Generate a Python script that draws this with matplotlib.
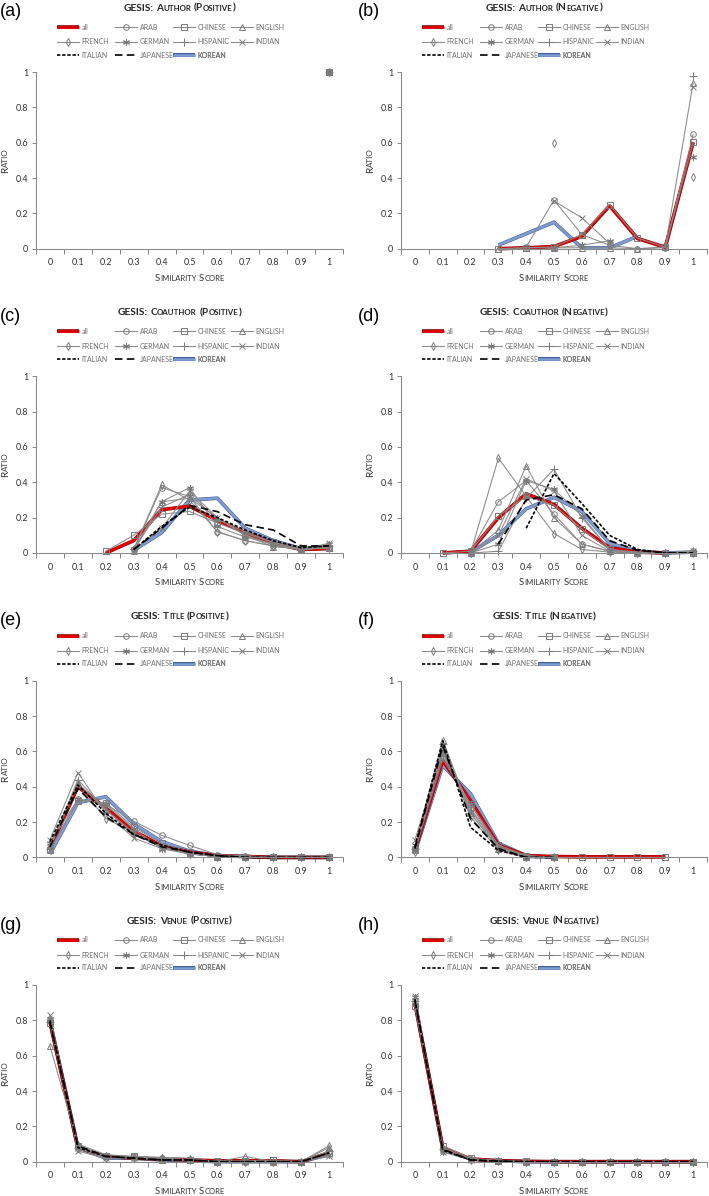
import numpy as np
import matplotlib
matplotlib.use('Agg')
import matplotlib.pyplot as plt
from matplotlib.transforms import IdentityTransform
import matplotlib.patheffects as pe

plt.rcParams['font.family'] = ['Lato', 'DejaVu Sans']

n = None

SCORES = ['0', '0.1', '0.2', '0.3', '0.4', '0.5', '0.6', '0.7', '0.8', '0.9', '1']
SERIES = ['all', 'ARAB', 'CHINESE', 'ENGLISH', 'FRENCH', 'GERMAN', 'HISPANIC',
          'INDIAN', 'ITALIAN', 'JAPANESE', 'KOREAN']
MARKERS = {'ARAB': 'o', 'CHINESE': 's', 'ENGLISH': '^', 'FRENCH': 'd',
           'GERMAN': (6, 2, 0), 'HISPANIC': '+', 'INDIAN': 'x'}
MSIZE = {'ARAB': 4, 'CHINESE': 4, 'ENGLISH': 4.5, 'FRENCH': 4,
         'GERMAN': 5, 'HISPANIC': 5.5, 'INDIAN': 4.5}

TITLES = ['GESIS: Author (Positive)', 'GESIS: Author (Negative)',
          'GESIS: Coauthor (Positive)', 'GESIS: Coauthor (Negative)',
          'GESIS: Title (Positive)', 'GESIS: Title (Negative)',
          'GESIS: Venue (Positive)', 'GESIS: Venue (Negative)']
LETTERS = ['(a)', '(b)', '(c)', '(d)', '(e)', '(f)', '(g)', '(h)']
XLABEL = 'Similarity Score'
YLABEL = 'Ratio'

AUTHOR_POS = {s: [n] * 10 + [1.0] for s in SERIES}

AUTHOR_NEG = {
    'all':      [n, n, n, 0.0, 0.005, 0.012, 0.07, 0.243, 0.058, 0.008, 0.602],
    'ARAB':     [n, n, n, n, 0.01, 0.275, 0.08, 0.02, 0.0, 0.005, 0.647],
    'CHINESE':  [n, n, n, 0.0, 0.005, 0.01, 0.08, 0.25, 0.06, 0.01, 0.602],
    'ENGLISH':  [n, n, n, 0.0, 0.005, 0.005, 0.005, 0.005, 0.0, 0.01, 0.936],
    'FRENCH':   [n, n, n, n, n, 0.6, n, n, n, n, 0.406],
    'GERMAN':   [n, n, n, n, n, 0.005, 0.02, 0.045, n, n, 0.519],
    'HISPANIC': [n, n, n, n, n, n, n, n, n, n, 0.977],
    'INDIAN':   [n, n, n, n, n, 0.27, 0.175, 0.03, n, n, 0.913],
    'ITALIAN':  [n] * 11,
    'JAPANESE': [n] * 11,
    'KOREAN':   [n, n, n, 0.02, 0.085, 0.15, 0.005, 0.005, 0.07, n, n],
}

COAUTHOR_POS = {
    'all':      [n, n, 0.0, 0.07, 0.245, 0.265, 0.185, 0.115, 0.055, 0.02, 0.025],
    'ARAB':     [n, n, n, 0.02, 0.37, 0.32, 0.12, 0.07, 0.04, 0.02, 0.03],
    'CHINESE':  [n, n, 0.01, 0.10, 0.22, 0.235, 0.17, 0.11, 0.06, 0.02, 0.03],
    'ENGLISH':  [n, n, n, 0.01, 0.29, 0.31, 0.20, 0.10, 0.035, 0.03, 0.03],
    'FRENCH':   [n, n, n, 0.02, 0.385, 0.30, 0.12, 0.07, 0.04, 0.02, 0.03],
    'GERMAN':   [n, n, n, 0.02, 0.29, 0.37, 0.15, 0.09, 0.05, 0.02, 0.05],
    'HISPANIC': [n, n, n, 0.02, 0.26, 0.33, 0.19, 0.12, 0.06, 0.03, 0.04],
    'INDIAN':   [n, n, n, 0.015, 0.14, 0.35, 0.20, 0.10, 0.05, 0.02, 0.055],
    'ITALIAN':  [n, n, n, 0.02, 0.15, 0.26, 0.20, 0.13, 0.07, 0.03, 0.04],
    'JAPANESE': [n, n, n, 0.02, 0.14, 0.27, 0.234, 0.16, 0.13, 0.04, 0.04],
    'KOREAN':   [n, n, n, 0.015, 0.115, 0.30, 0.31, 0.14, 0.07, 0.025, 0.03],
}

COAUTHOR_NEG = {
    'all':      [n, 0.0, 0.01, 0.20, 0.335, 0.275, 0.14, 0.03, 0.005, 0.0, n],
    'ARAB':     [n, n, 0.01, 0.29, 0.41, 0.22, 0.05, 0.01, 0.0, 0.0, 0.01],
    'CHINESE':  [n, 0.0, 0.01, 0.21, 0.32, 0.27, 0.136, 0.02, 0.005, 0.0, 0.0],
    'ENGLISH':  [n, n, 0.0, 0.13, 0.493, 0.20, 0.05, 0.01, 0.0, 0.0, 0.0],
    'FRENCH':   [n, n, 0.0, 0.537, 0.32, 0.11, 0.02, 0.005, 0.0, 0.0, 0.0],
    'GERMAN':   [n, n, 0.0, 0.05, 0.41, 0.36, 0.21, 0.02, 0.0, 0.0, 0.0],
    'HISPANIC': [n, n, 0.0, 0.01, 0.31, 0.474, 0.20, 0.02, 0.0, 0.0, 0.01],
    'INDIAN':   [n, n, 0.0, 0.10, 0.42, 0.35, 0.10, 0.01, 0.0, 0.0, 0.01],
    'ITALIAN':  [n, n, n, n, 0.14, 0.45, 0.28, 0.10, 0.02, 0.0, 0.0],
    'JAPANESE': [n, n, n, 0.05, 0.30, 0.33, 0.25, 0.07, 0.015, 0.0, 0.0],
    'KOREAN':   [n, n, 0.005, 0.10, 0.25, 0.315, 0.235, 0.055, 0.01, 0.0, 0.005],
}

TITLE_POS = {
    'all':      [0.05, 0.40, 0.28, 0.15, 0.065, 0.03, 0.01, 0.005, 0.0, 0.0, 0.0],
    'ARAB':     [0.04, 0.33, 0.30, 0.205, 0.125, 0.068, 0.015, 0.01, 0.0, 0.0, 0.0],
    'CHINESE':  [0.04, 0.32, 0.31, 0.17, 0.08, 0.03, 0.01, 0.005, 0.0, 0.0, 0.0],
    'ENGLISH':  [0.07, 0.42, 0.27, 0.14, 0.06, 0.02, 0.005, 0.0, 0.0, 0.0, 0.0],
    'FRENCH':   [0.06, 0.41, 0.22, 0.14, 0.06, 0.02, 0.005, 0.0, 0.0, 0.0, 0.0],
    'GERMAN':   [0.08, 0.33, 0.30, 0.16, 0.05, 0.02, 0.005, 0.0, 0.0, 0.0, 0.0],
    'HISPANIC': [0.05, 0.44, 0.27, 0.13, 0.06, 0.02, 0.005, 0.0, 0.0, 0.0, 0.0],
    'INDIAN':   [0.10, 0.48, 0.25, 0.11, 0.05, 0.02, 0.005, 0.0, 0.0, 0.0, 0.0],
    'ITALIAN':  [0.09, 0.41, 0.25, 0.13, 0.07, 0.03, 0.01, 0.0, 0.0, 0.0, 0.0],
    'JAPANESE': [0.06, 0.39, 0.23, 0.13, 0.06, 0.03, 0.01, 0.0, 0.0, 0.0, 0.0],
    'KOREAN':   [0.02, 0.31, 0.343, 0.19, 0.09, 0.035, 0.01, 0.005, 0.0, 0.0, 0.0],
}

TITLE_NEG = {
    'all':      [0.04, 0.55, 0.32, 0.07, 0.01, 0.005, 0.003, 0.003, 0.003, 0.003, n],
    'ARAB':     [0.05, 0.60, 0.28, 0.06, 0.01, 0.0, n, n, n, n, n],
    'CHINESE':  [0.04, 0.56, 0.30, 0.07, 0.01, 0.0, 0.0, 0.0, 0.0, 0.0, n],
    'ENGLISH':  [0.06, 0.665, 0.25, 0.05, 0.0, 0.0, n, n, n, n, n],
    'FRENCH':   [0.03, 0.62, 0.23, 0.04, 0.0, 0.0, n, n, n, n, n],
    'GERMAN':   [0.07, 0.58, 0.30, 0.06, 0.005, 0.0, n, n, n, n, n],
    'HISPANIC': [0.05, 0.64, 0.27, 0.05, 0.0, 0.0, n, n, n, n, n],
    'INDIAN':   [0.10, 0.60, 0.25, 0.05, 0.0, 0.0, n, n, n, n, n],
    'ITALIAN':  [0.06, 0.66, 0.17, 0.04, 0.0, 0.0, n, n, n, n, n],
    'JAPANESE': [0.05, 0.63, 0.22, 0.05, 0.0, 0.0, n, n, n, n, n],
    'KOREAN':   [0.03, 0.52, 0.36, 0.08, 0.01, 0.0, n, n, n, n, n],
}

VENUE_POS = {
    'all':      [0.79, 0.08, 0.03, 0.02, 0.015, 0.01, 0.005, 0.005, 0.005, 0.0, 0.05],
    'ARAB':     [0.80, 0.09, 0.03, 0.03, 0.02, 0.01, 0.0, 0.0, 0.0, 0.0, 0.06],
    'CHINESE':  [0.785, 0.09, 0.03, 0.03, 0.01, 0.01, 0.005, 0.005, 0.01, 0.0, 0.05],
    'ENGLISH':  [0.654, 0.10, 0.04, 0.03, 0.025, 0.02, 0.0, 0.03, 0.0, 0.0, 0.08],
    'FRENCH':   [0.80, 0.08, 0.02, 0.02, 0.02, 0.01, 0.0, 0.0, 0.0, 0.0, 0.09],
    'GERMAN':   [0.81, 0.07, 0.03, 0.02, 0.01, 0.01, 0.0, 0.0, 0.0, 0.0, 0.04],
    'HISPANIC': [0.79, 0.08, 0.03, 0.02, 0.02, 0.01, 0.0, 0.0, 0.0, 0.0, 0.06],
    'INDIAN':   [0.828, 0.06, 0.02, 0.02, 0.01, 0.01, 0.0, 0.0, 0.0, 0.0, 0.03],
    'ITALIAN':  [0.80, 0.08, 0.03, 0.02, 0.01, 0.01, 0.0, 0.0, 0.0, 0.0, 0.05],
    'JAPANESE': [0.79, 0.09, 0.03, 0.02, 0.01, 0.01, 0.0, 0.0, 0.0, 0.0, 0.05],
    'KOREAN':   [0.80, 0.08, 0.02, 0.02, 0.01, 0.005, 0.0, 0.0, 0.0, 0.0, 0.04],
}

VENUE_NEG = {
    'all':      [0.90, 0.08, 0.015, 0.005, 0.002, 0.0, 0.0, 0.0, 0.0, 0.0, 0.0],
    'ARAB':     [0.91, 0.07, 0.015, 0.005, 0.0, 0.0, 0.0, 0.0, 0.0, 0.0, 0.0],
    'CHINESE':  [0.879, 0.09, 0.02, 0.005, 0.002, 0.0, 0.0, 0.0, 0.0, 0.0, 0.0],
    'ENGLISH':  [0.90, 0.08, 0.015, 0.005, 0.0, 0.0, 0.0, 0.0, 0.0, 0.0, 0.0],
    'FRENCH':   [0.92, 0.06, 0.01, 0.005, 0.0, 0.0, 0.0, 0.0, 0.0, 0.0, 0.0],
    'GERMAN':   [0.93, 0.06, 0.01, 0.003, 0.0, 0.0, 0.0, 0.0, 0.0, 0.0, 0.0],
    'HISPANIC': [0.91, 0.07, 0.015, 0.005, 0.0, 0.0, 0.0, 0.0, 0.0, 0.0, 0.0],
    'INDIAN':   [0.935, 0.055, 0.01, 0.003, 0.0, 0.0, 0.0, 0.0, 0.0, 0.0, 0.0],
    'ITALIAN':  [0.92, 0.065, 0.01, 0.003, 0.0, 0.0, 0.0, 0.0, 0.0, 0.0, 0.0],
    'JAPANESE': [0.91, 0.07, 0.01, 0.003, 0.0, 0.0, 0.0, 0.0, 0.0, 0.0, 0.0],
    'KOREAN':   [0.90, 0.075, 0.015, 0.005, 0.0, 0.0, 0.0, 0.0, 0.0, 0.0, 0.0],
}

PANELS = [AUTHOR_POS, AUTHOR_NEG, COAUTHOR_POS, COAUTHOR_NEG,
          TITLE_POS, TITLE_NEG, VENUE_POS, VENUE_NEG]

# ---------------------------------------------------------------- styling
W, H = 709, 1196
GRAY = '#8a8a8a'
AXIS_GRAY = '#888888'
RED = '#e60000'
BLUE = '#7f9dd2'


def style(name):
    if name == 'all':
        return dict(color=RED, lw=1.9, solid_capstyle='butt', zorder=2.1,
                    path_effects=[pe.Stroke(linewidth=2.6, foreground='#8a0000'), pe.Normal()])
    if name == 'KOREAN':
        return dict(color=BLUE, lw=1.9, solid_capstyle='butt', zorder=2.0,
                    path_effects=[pe.Stroke(linewidth=2.6, foreground='#3c5893'), pe.Normal()])
    if name == 'ITALIAN':
        return dict(color='black', lw=1.2, dashes=(2.0, 1.1), zorder=2.3)
    if name == 'JAPANESE':
        return dict(color='black', lw=1.2, dashes=(4.5, 2.6), zorder=2.3)
    return dict(color=GRAY, lw=0.75, marker=MARKERS[name], ms=MSIZE[name],
                mfc='none', mec='#7a7a7a', mew=0.7, zorder=2.2)


fig = plt.figure(figsize=(W / 100, H / 100), dpi=100)
renderer = fig.canvas.get_renderer()


def sc_runs(s):
    runs = []
    for ch in s:
        if ch == ' ':
            runs.append([' ', None])
            continue
        small = ch.islower()
        if runs and runs[-1][1] is not None and runs[-1][1] == small:
            runs[-1][0] += ch.upper()
        else:
            runs.append([ch.upper(), small])
    return runs


def smallcaps(x, y, s, size, weight='normal', color='#262626', rotation=0, ratio=0.78):
    """Draw text in small caps centred at pixel (x, y) (baseline), y measured from top."""
    yd = H - y
    pieces = []
    total = 0.0
    for text, small in sc_runs(s):
        if small is None:
            w = 0.26 * size * 100 / 72
            pieces.append((None, w))
            total += w
            continue
        t = fig.text(0, 0, text, fontsize=size * (ratio if small else 1.0),
                     fontweight=weight, color=color, rotation=rotation,
                     rotation_mode='anchor', ha='left', va='baseline',
                     transform=IdentityTransform())
        bb = t.get_window_extent(renderer)
        w = bb.height if rotation == 90 else bb.width
        pieces.append((t, w))
        total += w
    pos = -total / 2
    for t, w in pieces:
        if t is not None:
            if rotation == 90:
                t.set_position((x, yd + pos))
            else:
                t.set_position((x + pos, yd))
        pos += w


ROW_OFF = [0, 304.3, 608.7, 913]
AX_LEFT = [36, 401]
AX_W = [307, 306]
AX_TOP, AX_BOT = 72, 248.7
LEG_COLS = [21, 79, 137, 195]
LEG_ROWS = [27, 42, 55]
x = np.arange(len(SCORES))

for i, data in enumerate(PANELS):
    r, c = divmod(i, 2)
    off = ROW_OFF[r]
    left = AX_LEFT[c]
    aw = AX_W[c]
    ax = fig.add_axes([left / W, 1 - (AX_BOT + off) / H, aw / W, (AX_BOT - AX_TOP) / H])

    handles = {}
    for name in SERIES:
        y = np.array(data[name], dtype=float)
        line, = ax.plot(x, y, **style(name), clip_on=False)
        handles[name] = line

    ax.set_xlim(-0.5, len(SCORES) - 0.5)
    ax.set_ylim(0, 1)
    ax.set_xticks(x)
    ax.set_xticklabels(SCORES)
    ax.set_xticks(np.arange(-0.5, len(SCORES), 1.0), minor=True)
    ax.set_yticks([0, 0.2, 0.4, 0.6, 0.8, 1.0])
    ax.set_yticklabels(['0', '0.2', '0.4', '0.6', '0.8', '1'])
    ax.tick_params(axis='x', which='major', length=0, pad=7, labelsize=6.5, labelcolor='#333333')
    ax.tick_params(axis='x', which='minor', length=3.5, width=0.7, color=AXIS_GRAY, direction='out')
    ax.tick_params(axis='y', which='major', length=3, width=0.7, color=AXIS_GRAY, pad=2.5,
                   labelsize=6.5, labelcolor='#333333')
    for sp in ['top', 'right']:
        ax.spines[sp].set_visible(False)
    for sp in ['left', 'bottom']:
        ax.spines[sp].set_color(AXIS_GRAY)
        ax.spines[sp].set_linewidth(0.75)
    ax.patch.set_alpha(0)

    # legend: one entry per slot, Excel-like fixed grid
    for k, name in enumerate(SERIES):
        rr, cc = divmod(k, 4)
        lx = (left + LEG_COLS[cc]) / W
        ly = 1 - (LEG_ROWS[rr] + off) / H
        leg = ax.legend([handles[name]], [name], loc='center left',
                        bbox_to_anchor=(lx, ly), bbox_transform=fig.transFigure,
                        frameon=False, fontsize=5.0, labelcolor='#707070',
                        handlelength=3.2, handletextpad=0.35, borderpad=0,
                        borderaxespad=0, numpoints=1)
        ax.add_artist(leg)

    cx = left + aw / 2
    smallcaps(cx - 10, 10.7 + off, TITLES[i], 7.3, weight='bold', color='#262626')
    smallcaps(cx, 281 + off, XLABEL, 7.0, color='#333333')
    smallcaps(left - 28, (AX_TOP + AX_BOT) / 2 + off, YLABEL, 7.4, color='#333333', rotation=90)
    fig.text((0 if c == 0 else 358) / W, 1 - (12 + off) / H, LETTERS[i],
             fontsize=13, family='Liberation Sans', ha='left', va='center', color='black')

fig.savefig('out.png', dpi=100)
